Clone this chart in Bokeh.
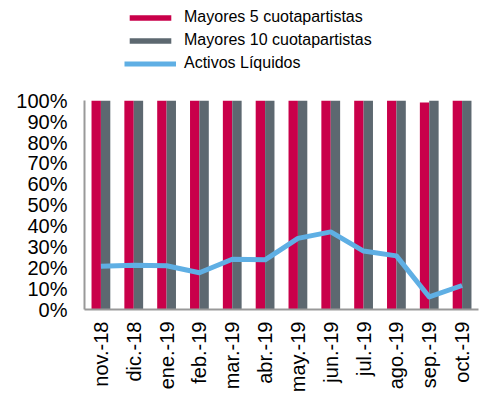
import math
from bokeh.plotting import figure
from bokeh.models import ColumnDataSource, FactorRange, Range1d, Legend, LegendItem, FixedTicker
from bokeh.transform import dodge
from bokeh.embed import file_html
from bokeh.resources import INLINE

months = ["nov.-18", "dic.-18", "ene.-19", "feb.-19", "mar.-19", "abr.-19",
          "may.-19", "jun.-19", "jul.-19", "ago.-19", "sep.-19", "oct.-19"]
top5 = [100, 100, 100, 100, 100, 100, 100, 100, 100, 100, 99.2, 100]
top10 = [100, 100, 100, 100, 100, 100, 100, 100, 100, 100, 100, 100]
liquidos = [20.7, 21.2, 21.0, 17.6, 24.1, 23.8, 34.1, 37.2, 28.0, 25.7, 6.0, 11.5]
y_ticks = list(range(0, 101, 10))
y_labels = {t: f"{t}%" for t in y_ticks}

src = ColumnDataSource(dict(m=months, a=top5, b=top10, c=liquidos))

p = figure(x_range=FactorRange(*months, range_padding=0), y_range=Range1d(0, 148.1),
           width=480, height=395, output_backend="svg", toolbar_location=None,
           min_border_left=84, min_border_right=2, min_border_top=0, min_border_bottom=79)
p.outline_line_color = None
p.xgrid.visible = False
p.ygrid.visible = False
p.background_fill_color = "white"
p.border_fill_color = "white"

r1 = p.vbar(x=dodge("m", -0.143, range=p.x_range), top="a", width=0.286, source=src,
            fill_color="#C9004A", line_color=None)
r2 = p.vbar(x=dodge("m", 0.143, range=p.x_range), top="b", width=0.286, source=src,
            fill_color="#5D6870", line_color=None)
r3 = p.line(x="m", y="c", source=src, line_color="#5FAFE4", line_width=5,
            line_join="round")

p.yaxis.ticker = FixedTicker(ticks=y_ticks)
p.yaxis.major_label_overrides = y_labels
p.yaxis.bounds = (0, 100)
for ax in (p.xaxis, p.yaxis):
    ax.axis_line_color = "#999999"
    ax.axis_line_width = 2
    ax.major_tick_line_color = None
    ax.minor_tick_line_color = None
    ax.major_tick_out = 0
    ax.major_tick_in = 0
    ax.major_label_text_font = "Liberation Sans"
    ax.major_label_text_font_size = "20px"
    ax.major_label_text_color = "black"
p.yaxis.major_label_standoff = 17
p.xaxis.major_label_standoff = 12
p.xaxis.major_label_orientation = math.pi / 2

legend = Legend(items=[LegendItem(label="Mayores 5 cuotapartistas", renderers=[r1]),
                       LegendItem(label="Mayores 10 cuotapartistas", renderers=[r2]),
                       LegendItem(label="Activos Líquidos", renderers=[r3])],
                location=(40, 237), orientation="vertical",
                glyph_width=52, glyph_height=7, label_height=18, spacing=5,
                label_standoff=8, padding=0, margin=0,
                border_line_color=None, background_fill_alpha=0,
                label_text_font="Liberation Sans", label_text_font_size="16px",
                label_text_color="black")
p.add_layout(legend, "center")

open("out.html", "w").write(file_html(p, INLINE))
